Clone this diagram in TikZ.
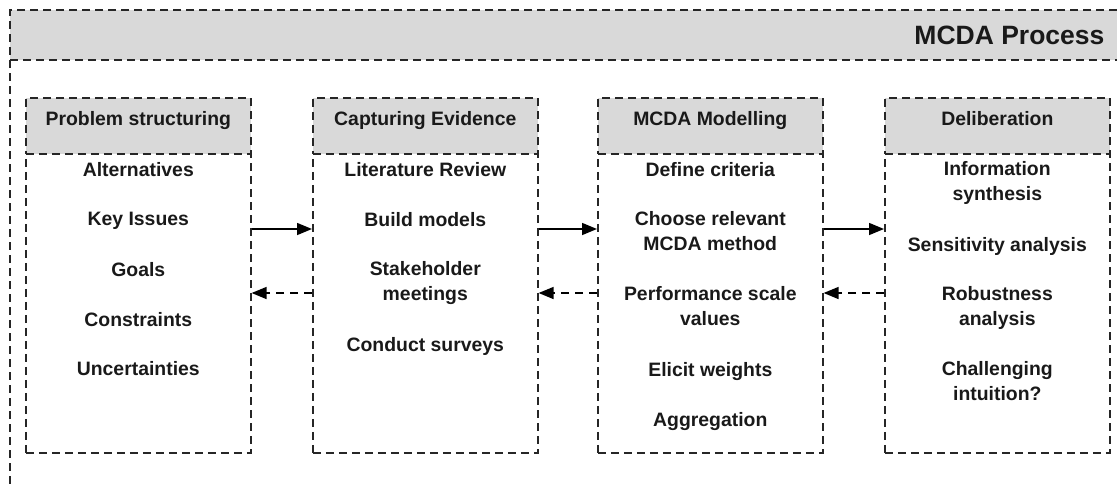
\documentclass[tikz,border=0pt]{standalone}
\usepackage{fontspec}
\setmainfont{Liberation Sans}
\usetikzlibrary{arrows.meta}
\definecolor{hdrgray}{HTML}{D9D9D9}
\newcommand\mytstrut{\rule{0pt}{15pt}}
\begin{document}
\begin{tikzpicture}[x=1pt,y=-1pt,
  dline/.style={line width=1.6pt,dash pattern=on 8pt off 5pt,draw=black!85},
  hdr/.style={dline,fill=hdrgray,minimum width=225pt,minimum height=56pt,anchor=north west,inner sep=0pt},
  bodybox/.style={dline,minimum width=225pt,anchor=north west,inner sep=0pt},
  htext/.style={font=\fontsize{19.4}{24}\selectfont\bfseries,text=black!90,anchor=base},
  item/.style={font=\fontsize{19.4}{25}\selectfont\bfseries,align=center,text=black!90,
    anchor=north,inner sep=0pt,yshift=15pt,execute at begin node=\mytstrut},
  fwd/.style={line width=1.5pt,-{Triangle[length=15pt,width=12pt]}},
  bwd/.style={line width=1.5pt,dash pattern=on 8pt off 6pt,-{Triangle[length=15pt,width=12pt]}}
]
\useasboundingbox (0,0) rectangle (1117,485);
\begin{scope}
\clip (0,0) rectangle (1117,485);
\fill[hdrgray] (10,10) rectangle (1130,60);
\draw[dline] (1130,10) -- (10,10) -- (10,500);
\draw[dline] (10,60) -- (1130,60);
\end{scope}
\node[htext,font=\fontsize{26.5}{30}\selectfont\bfseries,anchor=base east] (title) at (1108,44) {MCDA Process};

% boxes
\foreach \n/\x in {1/25,2/312,3/597,4/884}{
  \node[bodybox,minimum height=299pt] (b\n) at (\x,153) {};
  \node[hdr] (h\n) at (\x,97) {};
}
\node[htext] (t1) at (h1.center |- 0,125) {Problem structuring};
\node[htext] (t2) at (h2.center |- 0,125) {Capturing Evidence};
\node[htext] (t3) at (h3.center |- 0,125) {MCDA Modelling};
\node[htext] (t4) at (h4.center |- 0,125) {Deliberation};

% box 1 items
\node[item] (a1) at (b1.center |- 0,176) {Alternatives};
\node[item] (a2) at (b1.center |- 0,225) {Key Issues};
\node[item] (a3) at (b1.center |- 0,276) {Goals};
\node[item] (a4) at (b1.center |- 0,326) {Constraints};
\node[item] (a5) at (b1.center |- 0,375) {Uncertainties};
% box 2
\node[item] (c1) at (b2.center |- 0,176) {Literature Review};
\node[item] (c2) at (b2.center |- 0,226) {Build models};
\node[item] (c3) at (b2.center |- 0,276) {Stakeholder\\meetings};
\node[item] (c4) at (b2.center |- 0,351) {Conduct surveys};
% box 3
\node[item] (m1) at (b3.center |- 0,176) {Define criteria};
\node[item] (m2) at (b3.center |- 0,226) {Choose relevant\\MCDA method};
\node[item] (m3) at (b3.center |- 0,301) {Performance scale\\values};
\node[item] (m4) at (b3.center |- 0,376) {Elicit weights};
\node[item] (m5) at (b3.center |- 0,426) {Aggregation};
% box 4
\node[item] (d1) at (b4.center |- 0,176) {Information\\synthesis};
\node[item] (d2) at (b4.center |- 0,251) {Sensitivity analysis};
\node[item] (d3) at (b4.center |- 0,301) {Robustness\\analysis};
\node[item] (d4) at (b4.center |- 0,376) {Challenging\\intuition?};

% connectors
\coordinate (fy) at (0,229);
\coordinate (by) at (0,293);
\foreach \a/\b in {1/2,2/3,3/4}{
  \draw[fwd] (b\a.east |- fy) -- (b\b.west |- fy);
  \draw[bwd] (b\b.west |- by) -- (b\a.east |- by);
}
\end{tikzpicture}
\end{document}
